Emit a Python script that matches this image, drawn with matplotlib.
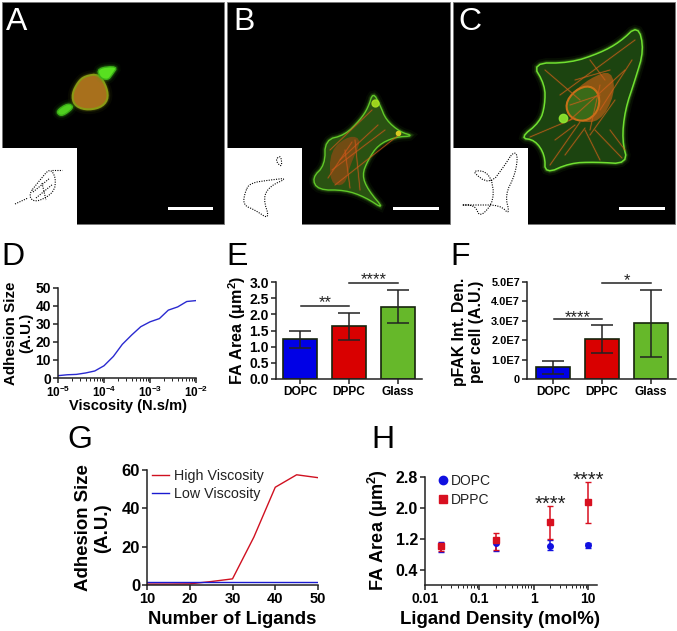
import matplotlib
matplotlib.use("Agg")
from matplotlib import pyplot as plt
from matplotlib.patches import Polygon, Rectangle
from matplotlib.ticker import NullFormatter, LogLocator, FixedLocator

plt.rcParams['font.family'] = ['Liberation Sans', 'DejaVu Sans']
plt.rcParams['mathtext.fontset'] = 'custom'
plt.rcParams['mathtext.rm'] = 'Liberation Sans'
plt.rcParams['mathtext.bf'] = 'Liberation Sans:bold'

W, H = 677, 631
AXIS_COLOR = '#222222'

# panel D
viscosity = [1e-5, 1.6e-5, 2.5e-5, 4e-5, 6.3e-5, 1e-4, 1.6e-4, 2.5e-4, 4e-4, 6.3e-4,
             1e-3, 1.6e-3, 2.5e-3, 4e-3, 6.3e-3, 1e-2]
adhesion_visc = [1.3, 1.8, 2.0, 2.8, 3.9, 6.8, 12.0, 18.7, 23.9, 28.5, 31.2, 33.0, 37.7, 39.5, 42.5, 43.0]
visc_ticks = [1e-5, 1e-4, 1e-3, 1e-2]
visc_labels = ['$\\mathbf{10^{-5}}$', '$\\mathbf{10^{-4}}$', '$\\mathbf{10^{-3}}$', '$\\mathbf{10^{-2}}$']

# panels E and F
lipids = ['DOPC', 'DPPC', 'Glass']
bar_colors = ['#0000e6', '#d90000', '#66b82a']
fa_area = [1.23, 1.63, 2.23]
fa_low = [0.97, 1.20, 1.72]
fa_high = [1.50, 2.05, 2.74]
pfak = [0.6e7, 2.07e7, 2.9e7]
pfak_low = [0.25e7, 1.33e7, 1.15e7]
pfak_high = [0.93e7, 2.78e7, 4.6e7]
pfak_ticks = [0, 1e7, 2e7, 3e7, 4e7, 5e7]
pfak_labels = ['0', '1.0E7', '2.0E7', '3.0E7', '4.0E7', '5.0E7']

# panel G
ligands = [10, 15, 20, 25, 30, 35, 40, 45, 50]
high_visc = [0.5, 0.5, 0.6, 1.8, 3.2, 25, 51, 57.5, 56]
low_visc = [1.8, 1.8, 1.8, 1.8, 1.8, 1.8, 1.8, 1.8, 1.8]

# panel H
density = [0.02, 0.2, 2, 10]
dopc = [1.01, 1.08, 1.02, 1.03]
dopc_low = [0.85, 0.89, 0.92, 0.96]
dopc_high = [1.12, 1.23, 1.17, 1.10]
dppc = [1.01, 1.17, 1.63, 2.15]
dppc_low = [0.87, 0.91, 1.18, 1.61]
dppc_high = [1.08, 1.35, 2.06, 2.68]

# micrograph sketches, in image pixels
frames = [(2, 224), (227, 450), (453, 675)]
insets = [(0, 77), (227, 302), (452, 528)]
scale_bars = [(168, 213), (393, 439), (619, 665)]
cell_a_body = [(85, 76), (99, 74), (107, 88), (108, 100), (100, 108), (85, 110), (74, 105), (72, 94), (78, 82)]
cell_a_top = [(97, 68), (118, 66), (112, 75), (108, 80), (100, 78)]
cell_a_low = [(56, 111), (68, 103), (74, 107), (66, 114), (60, 116)]
cell_b = [(373, 92), (380, 105), (386, 120), (400, 132), (414, 136), (395, 137), (378, 145), (368, 160),
          (362, 175), (368, 190), (385, 210), (365, 197), (345, 190), (318, 190), (312, 178), (325, 165),
          (325, 140), (345, 135), (360, 120), (368, 108)]
cell_c = [(638, 25), (620, 42), (600, 53), (570, 63), (532, 63), (545, 85), (545, 105), (540, 122), (520, 138),
          (535, 140), (545, 155), (545, 174), (570, 163), (595, 162), (628, 164), (622, 140), (625, 110),
          (635, 80), (644, 50)]
blob_b = [(330, 150), (350, 135), (362, 140), (350, 165), (345, 186), (330, 184)]
blob_c = [(570, 95), (590, 78), (612, 70), (615, 95), (600, 122), (578, 122), (566, 110)]
fibres_b = [((330, 150), (372, 110)), ((332, 170), (385, 130)), ((335, 185), (400, 134)), ((345, 150), (350, 188)),
            ((340, 160), (378, 125)), ((355, 140), (360, 190)), ((328, 178), (352, 142))]
fibres_c = [((560, 95), (635, 40)), ((570, 120), (625, 70)), ((600, 110), (632, 60)), ((545, 70), (580, 100)),
            ((530, 137), (575, 118)), ((550, 165), (580, 122)), ((595, 130), (622, 158)), ((585, 130), (600, 160)),
            ((575, 80), (610, 70)), ((600, 85), (590, 130)), ((570, 105), (600, 95)), ((615, 100), (590, 135)),
            ((555, 140), (575, 125)), ((565, 155), (585, 128)), ((610, 130), (625, 150)), ((590, 60), (605, 80))]
ring_c = [(575, 90), (590, 85), (600, 95), (598, 112), (585, 122), (570, 118), (565, 104)]
sketch_a = [(28, 195), (40, 180), (50, 168), (56, 178), (54, 193), (35, 203)]
sketch_a_inner = [((33, 192), (50, 178)), ((36, 198), (53, 184)), ((42, 183), (46, 200))]
sketch_a_tail = [((15, 204), (28, 198)), ((52, 170), (62, 170))]
sketch_b = [(245, 192), (250, 183), (270, 180), (288, 178), (270, 186), (263, 198), (270, 220), (255, 210), (243, 205)]
sketch_b_top = [(275, 160), (281, 155), (282, 168)]
sketch_c = [(513, 152), (505, 165), (490, 185), (470, 170), (490, 172), (495, 200), (480, 218), (475, 205), (458, 205),
            (475, 205), (500, 205), (510, 215), (505, 195), (515, 175), (518, 155)]


def round_off(pts, rounds=2):
    # corner cutting so the hand-traced outlines look organic
    for _ in range(rounds):
        out = []
        for (x0, y0), (x1, y1) in zip(pts, pts[1:] + pts[:1]):
            out.append((0.75 * x0 + 0.25 * x1, 0.75 * y0 + 0.25 * y1))
            out.append((0.25 * x0 + 0.75 * x1, 0.25 * y0 + 0.75 * y1))
        pts = out
    return pts


def make_axes(left, right, top, bottom):
    ax = fig.add_axes([left / W, 1 - bottom / H, (right - left) / W, (bottom - top) / H])
    ax.patch.set_alpha(0)
    ax.spines[['top', 'right']].set_visible(False)
    ax.spines[['left', 'bottom']].set_linewidth(1.1)
    ax.spines[['left', 'bottom']].set_color(AXIS_COLOR)
    ax.tick_params(width=1.1, length=3.5, pad=1.5, color=AXIS_COLOR)
    return ax


def place_labels(ax, xlabel, xpos, ylabel, ypos, xsize, ysize):
    # label centres are given in figure pixels
    to_axes = ax.transAxes.inverted()
    ax.set_xlabel(xlabel, fontsize=xsize, fontweight='bold', va='center', ha='center')
    ax.set_ylabel(ylabel, fontsize=ysize, fontweight='bold', va='center', ha='center', linespacing=1.1)
    xp = to_axes.transform((xpos[0], H - xpos[1]))
    yp = to_axes.transform((ypos[0], H - ypos[1]))
    ax.xaxis.set_label_coords(xp[0], xp[1])
    ax.yaxis.set_label_coords(yp[0], yp[1])


def bold_ticks(ax, xsize, ysize):
    for t in ax.get_xticklabels():
        t.set_fontsize(xsize)
        t.set_fontweight('bold')
    for t in ax.get_yticklabels():
        t.set_fontsize(ysize)
        t.set_fontweight('bold')


def bar_panel(ax, values, low, high, ylim):
    ax.bar(range(3), values, width=0.68, color=bar_colors, edgecolor='#16240c', linewidth=1.2)
    err = [[v - l for v, l in zip(values, low)], [h - v for v, h in zip(values, high)]]
    ax.errorbar(range(3), values, yerr=err, fmt='none', ecolor='#222222', elinewidth=1.1,
                capsize=8, capthick=1.1)
    ax.set_xticks(range(3))
    ax.set_xticklabels(lipids)
    ax.set_ylim(*ylim)


def bracket(ax, x0, x1, y, text, ty):
    ax.plot([x0, x1], [y, y], color='#222222', lw=1.1, clip_on=False)
    ax.text((x0 + x1) / 2, ty, text, ha='center', va='center', fontsize=12, color='#222222', clip_on=False)


def glow(target, pts, color, lw=1.0):
    x, y = zip(*pts)
    target.plot(x, y, color=color, lw=lw * 3, alpha=0.18, solid_capstyle='round')
    target.plot(x, y, color=color, lw=lw, alpha=0.85, solid_capstyle='round')


def soft_patch(target, pts, fill, edge, lw=1.2):
    # a few wide transparent strokes give the fluorescent halo
    smooth = round_off(pts)
    for width, alpha in ((7, 0.06), (4, 0.12), (2.5, 0.2)):
        target.add_patch(Polygon(smooth, fc='none', ec=edge, lw=width, alpha=alpha))
    target.add_patch(Polygon(smooth, fc=fill, ec=edge, lw=lw))


def stipple(target, pts, closed=True, lw=0.8):
    smooth = round_off(pts) if closed else pts
    x, y = zip(*(smooth + smooth[:1] if closed else smooth))
    target.plot(x, y, color='black', lw=lw, ls=(0, (1, 1.2)), zorder=6)


fig = plt.figure(figsize=(W / 100, H / 100), dpi=100)

# micrographs
overlay = fig.add_axes([0, 0, 1, 1])
overlay.set_xlim(0, W)
overlay.set_ylim(H, 0)
overlay.axis('off')
for (x0, x1), (i0, i1), (b0, b1) in zip(frames, insets, scale_bars):
    overlay.add_patch(Rectangle((x0, 2), x1 - x0, 222, fc='black', ec='#777777', lw=0.6))
    overlay.add_patch(Rectangle((i0, 148), i1 - i0, 77, fc='white', ec='none', zorder=5))
    overlay.add_patch(Rectangle((b0, 207), b1 - b0, 3, fc='white', ec='none', zorder=5))

soft_patch(overlay, cell_a_body, '#a8701c', '#8a9a14', 1.5)
soft_patch(overlay, cell_a_top, '#58e020', '#3cb018', 1)
soft_patch(overlay, cell_a_low, '#50d020', '#3cb018', 1)

soft_patch(overlay, cell_b, '#2a5212', '#60c828', 1)
overlay.add_patch(Polygon(round_off(blob_b), fc='#8a4a14', ec='none', alpha=0.75))
for f in fibres_b:
    glow(overlay, f, '#d0581a', 0.5)
overlay.plot(375, 103, 'o', color='#a8e020', ms=5, alpha=0.9)
overlay.plot(398, 133, 'o', color='#d8c820', ms=3)

soft_patch(overlay, cell_c, '#1c4410', '#70e030', 1.1)
overlay.add_patch(Polygon(round_off(blob_c), fc='#a85a14', ec='none', alpha=0.8))
for f in fibres_c:
    glow(overlay, f, '#d0601a', 0.5)
overlay.add_patch(Polygon(round_off(ring_c), fc='#3a6a18', ec='#c87018', lw=1.5))
overlay.plot(563, 118, 'o', color='#90e830', ms=6, alpha=0.9)

for pts in (sketch_a, sketch_b, sketch_b_top, sketch_c):
    stipple(overlay, pts)
for f in sketch_a_inner + sketch_a_tail:
    stipple(overlay, list(f), closed=False)

for letter, x, y, col in [('A', 6, 22, 'white'), ('B', 233, 22, 'white'), ('C', 458, 22, 'white'),
                          ('D', 1, 257, 'black'), ('E', 226, 257, 'black'), ('F', 450, 257, 'black'),
                          ('G', 67, 440, 'black'), ('H', 371, 440, 'black')]:
    overlay.text(x, y, letter, color=col, fontsize=23, ha='left', va='center', zorder=7)

# D
ax = make_axes(58, 196, 288, 378)
ax.plot(viscosity, adhesion_visc, color='#2a2ad0', lw=1.0)
ax.set_xscale('log')
ax.set_xlim(1e-5, 1e-2)
ax.set_ylim(0, 50)
ax.set_yticks(range(0, 51, 10))
ax.set_xticks(visc_ticks)
ax.set_xticklabels(visc_labels)
ax.xaxis.set_minor_locator(LogLocator(base=10, subs=range(2, 10), numticks=20))
ax.xaxis.set_minor_formatter(NullFormatter())
ax.tick_params(axis='x', which='minor', length=2, width=0.7, color=AXIS_COLOR)
bold_ticks(ax, 8.5, 10)
place_labels(ax, 'Viscosity (N.s/m)', (128, 406), 'Adhesion Size\n(A.U.)', (19, 333), 10.5, 10.9)

# E
ax = make_axes(276, 422, 282, 379)
bar_panel(ax, fa_area, fa_low, fa_high, (0, 3))
ax.set_xlim(-0.49, 2.49)
ax.set_yticks([0, 0.5, 1, 1.5, 2, 2.5, 3])
ax.set_yticklabels(['0.0', '0.5', '1.0', '1.5', '2.0', '2.5', '3.0'])
bold_ticks(ax, 8.6, 10)
bracket(ax, 0.02, 1.0, 2.27, '**', 2.37)
bracket(ax, 1.0, 2.0, 2.97, '****', 3.08)
place_labels(ax, '', (349, 405), 'FA Area (μm$\\mathbf{^2}$)', (237, 330), 10, 11.6)

# F
ax = make_axes(527, 676, 282, 379)
bar_panel(ax, pfak, pfak_low, pfak_high, (0, 5e7))
ax.set_xlim(-0.53, 2.51)
ax.set_yticks(pfak_ticks)
ax.set_yticklabels(pfak_labels)
bold_ticks(ax, 8.6, 7.9)
bracket(ax, 0.02, 1.0, 3.07e7, '****', 3.17e7)
bracket(ax, 1.0, 2.0, 4.95e7, '*', 5.08e7)
place_labels(ax, '', (602, 405), 'pFAK Int. Den.\nper cell (A.U.)', (468, 332), 10, 11.4)

# G
ax = make_axes(147, 318, 470, 585)
ax.plot(ligands, high_visc, color='#d01020', lw=1.0, label='High Viscosity')
ax.plot(ligands, low_visc, color='#1a1ad0', lw=1.0, label='Low Viscosity')
ax.set_xlim(10, 50)
ax.set_ylim(0, 60)
ax.set_xticks(range(10, 51, 10))
ax.set_yticks(range(0, 61, 20))
bold_ticks(ax, 10.5, 12)
place_labels(ax, 'Number of Ligands', (232, 620), 'Adhesion Size\n(A.U.)', (93, 528), 13.3, 13.4)
ax.legend(loc='upper left', bbox_to_anchor=(-0.015, 1.07), frameon=False, fontsize=10.3, handlelength=1.2,
          handletextpad=0.35, labelspacing=0.3, borderaxespad=0.1, labelcolor='#222222')

# H
ax = make_axes(425, 597, 477, 585)
ax.set_xscale('log')
ax.errorbar(density, dopc, yerr=[[v - l for v, l in zip(dopc, dopc_low)], [h - v for v, h in zip(dopc, dopc_high)]],
            fmt='o', color='#1010e0', ms=4, elinewidth=1.1, capsize=2, capthick=1, label='DOPC')
ax.errorbar(density, dppc, yerr=[[v - l for v, l in zip(dppc, dppc_low)], [h - v for v, h in zip(dppc, dppc_high)]],
            fmt='s', color='#d81020', ms=4, elinewidth=1.1, capsize=2, capthick=1, label='DPPC')
ax.set_xlim(0.01, 14.6)
ax.set_ylim(0, 2.8)
ax.set_xticks([0.01, 0.1, 1, 10])
ax.set_xticklabels(['0.01', '0.1', '1', '10'])
ax.xaxis.set_minor_locator(LogLocator(base=10, subs=range(2, 10), numticks=20))
ax.xaxis.set_minor_formatter(NullFormatter())
ax.tick_params(axis='x', which='minor', length=2, width=0.7, color=AXIS_COLOR)
ax.yaxis.set_major_locator(FixedLocator([0.4, 1.2, 2.0, 2.8]))
ax.set_yticklabels(['0.4', '1.2', '2.0', '2.8'])
bold_ticks(ax, 10, 11.5)
ax.text(2, 2.08, '****', ha='center', va='center', fontsize=14.5, color='#222222', clip_on=False)
ax.text(10, 2.71, '****', ha='center', va='center', fontsize=14.5, color='#222222', clip_on=False)
place_labels(ax, 'Ligand Density (mol%)', (500, 620), 'FA Area (μm$\\mathbf{^2}$)', (378, 530), 13.4, 13)
handles, labels = ax.get_legend_handles_labels()
ax.legend([h[0] for h in handles], labels, loc='upper left', bbox_to_anchor=(0.015, 1.09), frameon=False,
          fontsize=10, markerscale=1.5, handlelength=1.2, handletextpad=0.0, labelspacing=0.35,
          borderaxespad=0.1, labelcolor='#222222')

fig.savefig('out.png', dpi=100)
